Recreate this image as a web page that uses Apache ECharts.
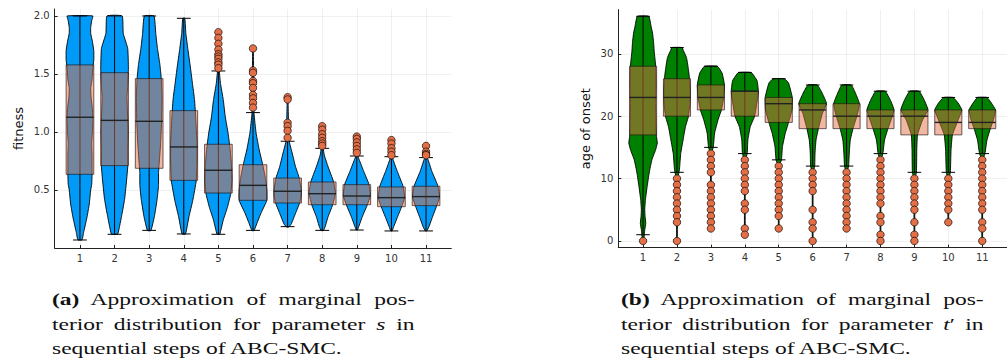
<!DOCTYPE html>
<html><head><meta charset="utf-8">
<script src="https://cdn.jsdelivr.net/npm/echarts@6/dist/echarts.min.js"></script>
<style>
html,body{margin:0;padding:0;background:#fff;}
#chart{position:absolute;left:0;top:0;width:1007px;height:360px;}
.cap{position:absolute;top:288px;font-family:"Liberation Serif","DejaVu Serif",serif;font-size:16px;line-height:24.7px;color:#111;width:247px;transform:scaleX(1.468);transform-origin:0 0;}
.cap div{white-space:nowrap;}
.cap .j{text-align:justify;text-align-last:justify;}
</style></head>
<body>
<div id="chart"></div>
<div class="cap" style="left:52px">
<div class="j"><b>(a)</b> Approximation of marginal pos-</div>
<div class="j">terior distribution for parameter <i>s</i> in</div>
<div>sequential steps of ABC-SMC.</div>
</div>
<div class="cap" style="left:620.7px">
<div class="j"><b>(b)</b> Approximation of marginal pos-</div>
<div class="j">terior distribution for parameter <i>t</i>′ in</div>
<div>sequential steps of ABC-SMC.</div>
</div>
<script>
// ---------- data ----------
const categories = [1,2,3,4,5,6,7,8,9,10,11];
const fitnessTicks = [0.5,1.0,1.5,2.0];
const onsetTicks = [0,10,20,30];

// panel (a): fitness
const fitnessQ1 = [0.635,0.71,0.687,0.583,0.474,0.411,0.388,0.373,0.373,0.356,0.365];
const fitnessMedian = [1.127,1.10,1.092,0.871,0.67,0.54,0.489,0.468,0.448,0.434,0.443];
const fitnessQ3 = [1.578,1.511,1.46,1.184,0.894,0.718,0.603,0.569,0.546,0.526,0.532];
const fitnessWhiskerLow = [0.069,0.118,0.152,0.121,0.118,0.152,0.184,0.152,0.155,0.147,0.147];
const fitnessWhiskerHigh = [2.0,2.0,2.0,1.98,1.526,1.167,0.92,0.859,0.793,0.787,0.779];
const fitnessOutliers = [
  [],[],[],[],
  [1.86,1.81,1.76,1.71,1.67,1.65,1.63,1.60,1.58,1.55],
  [1.72,1.53,1.51,1.44,1.42,1.38,1.32,1.29,1.25,1.21],
  [1.30,1.28,1.08,1.05,1.01,0.95],
  [1.05,1.02,0.98,0.95,0.92,0.90,0.88],
  [0.96,0.94,0.91,0.88,0.85,0.82],
  [0.93,0.90,0.86,0.83,0.80],
  [0.88,0.83,0.81,0.80]
];
// violin profiles: [value, half-width]
const fitnessViolin = [
  [[2.0,0.37],[1.96,0.34],[1.9,0.31],[1.85,0.31],[1.78,0.36],[1.7,0.40],[1.62,0.40],[1.55,0.37],[1.45,0.35],[1.38,0.31],[1.3,0.32],[1.2,0.36],[1.1,0.37],[1.0,0.36],[0.9,0.34],[0.8,0.35],[0.7,0.35],[0.63,0.35],[0.55,0.34],[0.5,0.31],[0.38,0.27],[0.26,0.20],[0.14,0.11],[0.07,0.06]],
  [[2.0,0.22],[1.85,0.25],[1.72,0.38],[1.55,0.40],[1.4,0.38],[1.3,0.36],[1.2,0.37],[1.0,0.39],[0.85,0.38],[0.70,0.38],[0.56,0.34],[0.42,0.29],[0.27,0.20],[0.18,0.14],[0.12,0.09]],
  [[2.0,0.14],[1.85,0.19],[1.72,0.24],[1.58,0.31],[1.46,0.35],[1.3,0.37],[1.1,0.36],[0.9,0.33],[0.69,0.28],[0.65,0.27],[0.54,0.27],[0.42,0.23],[0.27,0.15],[0.15,0.05]],
  [[1.98,0.03],[1.85,0.06],[1.71,0.12],[1.56,0.19],[1.42,0.25],[1.28,0.31],[1.1,0.35],[0.9,0.38],[0.75,0.38],[0.58,0.36],[0.41,0.26],[0.27,0.15],[0.12,0.05]],
  [[1.86,0.01],[1.55,0.02],[1.42,0.06],[1.28,0.14],[1.13,0.20],[0.99,0.28],[0.85,0.34],[0.7,0.38],[0.58,0.39],[0.47,0.36],[0.35,0.26],[0.24,0.14],[0.12,0.04]],
  [[1.72,0.01],[1.16,0.03],[0.99,0.09],[0.845,0.18],[0.72,0.28],[0.6,0.36],[0.5,0.40],[0.41,0.40],[0.30,0.23],[0.21,0.11],[0.15,0.03]],
  [[1.30,0.01],[0.93,0.04],[0.81,0.14],[0.70,0.23],[0.60,0.34],[0.5,0.39],[0.45,0.39],[0.39,0.35],[0.30,0.23],[0.21,0.11],[0.18,0.03]],
  [[1.05,0.01],[0.86,0.03],[0.80,0.06],[0.70,0.17],[0.57,0.33],[0.47,0.38],[0.37,0.30],[0.27,0.17],[0.18,0.08],[0.15,0.03]],
  [[0.96,0.01],[0.79,0.03],[0.76,0.07],[0.66,0.20],[0.55,0.35],[0.45,0.39],[0.37,0.30],[0.27,0.16],[0.18,0.05],[0.155,0.02]],
  [[0.93,0.01],[0.79,0.03],[0.76,0.05],[0.66,0.17],[0.53,0.34],[0.43,0.38],[0.36,0.30],[0.27,0.18],[0.18,0.06],[0.147,0.02]],
  [[0.88,0.01],[0.78,0.03],[0.76,0.06],[0.66,0.17],[0.53,0.35],[0.44,0.39],[0.365,0.31],[0.27,0.19],[0.18,0.08],[0.147,0.02]]
];

// panel (b): age of onset
const onsetQ1 = [17,20,21,20,19,18,18,18,17,17,18];
const onsetMedian = [23,23,23,24,22,21,20,20,20,19,19];
const onsetQ3 = [28,26,25,24,23,22,22,21,21,21,21];
const onsetWhiskerLow = [1,11,15,14,13,12,12,14,11,11,14];
const onsetWhiskerHigh = [36,31,28,27,26,25,25,24,24,23,23];
const onsetOutliers = [
  [0],
  [10,9,8,7,6,5,4,3,0],
  [14,13,12,11,9,8,7,6,5,4,3,2],
  [13,12,11,10,9,8,6,5,2,1],
  [12,11,10,9,8,7,6,5,4,2],
  [11,10,9,8,5,3,2,0],
  [11,10,9,8,7,6,5,4,3,2],
  [13,12,11,10,9,8,7,6,4,3,1,0],
  [10,9,8,7,6,5,3,1,0],
  [10,9,8,7,6,5,3],
  [13,12,11,10,9,8,7,6,5,3,2,0]
];
const onsetViolin = [
  [[36,0.17],[34.3,0.24],[33.3,0.28],[31.9,0.31],[30.3,0.33],[28.2,0.37],[25,0.38],[22,0.37],[19,0.38],[17,0.39],[15.7,0.42],[14.6,0.37],[13,0.26],[10.9,0.18],[8.7,0.12],[6.6,0.07],[5,0.05],[3.9,0.06],[2.8,0.08],[1.8,0.05],[1.2,0.04],[0,0.015]],
  [[31,0.15],[30.5,0.19],[29.4,0.28],[27.8,0.33],[26,0.37],[24,0.39],[22,0.38],[20,0.34],[18.3,0.25],[16.2,0.18],[14,0.11],[11.9,0.08],[11,0.06],[10,0.015],[0,0.01]],
  [[28,0.19],[26.9,0.33],[25,0.40],[23,0.38],[21,0.31],[19.4,0.21],[17.3,0.11],[15,0.07],[14,0.015],[2,0.01]],
  [[27,0.19],[25.7,0.36],[24,0.40],[22.6,0.37],[20,0.29],[18.3,0.16],[16.2,0.09],[14,0.07],[13,0.015],[1,0.01]],
  [[26,0.17],[25.3,0.29],[23,0.40],[21,0.39],[19,0.29],[17.2,0.19],[15.1,0.11],[13,0.08],[12,0.015],[2,0.01]],
  [[25,0.14],[23.6,0.29],[22,0.41],[20.5,0.29],[18,0.17],[16.2,0.10],[14.1,0.07],[12,0.06],[11,0.015],[0,0.01]],
  [[25,0.14],[23.6,0.27],[22,0.38],[20.5,0.33],[18,0.19],[16.2,0.11],[14.1,0.08],[12,0.06],[11,0.015],[2,0.01]],
  [[24,0.14],[22.6,0.29],[21,0.40],[19.4,0.31],[18,0.22],[16.2,0.12],[14,0.07],[13,0.015],[0,0.01]],
  [[24,0.14],[22.6,0.29],[21,0.40],[19.4,0.24],[17,0.09],[14.6,0.07],[11,0.06],[10,0.015],[0,0.01]],
  [[23,0.14],[22.1,0.29],[21,0.40],[19.4,0.29],[17,0.12],[14.6,0.08],[11,0.06],[10,0.015],[3,0.01]],
  [[23,0.14],[22.1,0.27],[21,0.39],[19.4,0.33],[18,0.24],[16.2,0.14],[14,0.08],[13,0.015],[0,0.01]]
];

// ---------- rendering ----------
const BOX_HALF = 0.4, CAP_HALF = 0.2;
const BOX_FILL = 'rgba(226,111,70,0.5)';
const OUT_COLOR = '#E26F46';

function violinItem(profiles, color){
  return function(params, api){
    const i = params.dataIndex, c = categories[i], prof = profiles[i];
    const pts = [];
    for (const [y,w] of prof) pts.push(api.coord([c + w, y]));
    for (let k = prof.length - 1; k >= 0; k--) { const [y,w] = prof[k]; pts.push(api.coord([c - w, y])); }
    return {type:'polygon', shape:{points:pts, smooth:0.12}, style:{fill:color, stroke:'#000', lineWidth:0.9}};
  };
}
function boxItem(q1, med, q3, wl, wh){
  return function(params, api){
    const i = params.dataIndex, c = categories[i];
    const ch = [];
    const line = (a, b, w, col) => ch.push({type:'line', shape:{x1:a[0],y1:a[1],x2:b[0],y2:b[1]}, style:{stroke:col||'#000', lineWidth:w||1}});
    line(api.coord([c, wh[i]]), api.coord([c, wl[i]]), 1);
    line(api.coord([c - CAP_HALF, wh[i]]), api.coord([c + CAP_HALF, wh[i]]), 1);
    line(api.coord([c - CAP_HALF, wl[i]]), api.coord([c + CAP_HALF, wl[i]]), 1);
    const tl = api.coord([c - BOX_HALF, q3[i]]), br = api.coord([c + BOX_HALF, q1[i]]);
    ch.push({type:'rect', shape:{x:tl[0], y:tl[1], width:br[0]-tl[0], height:br[1]-tl[1]},
      style:{fill:BOX_FILL, stroke:'rgba(30,20,20,0.65)', lineWidth:1}});
    line(api.coord([c - BOX_HALF, med[i]]), api.coord([c + BOX_HALF, med[i]]), 1.4, '#222');
    return {type:'group', children:ch};
  };
}
const catData = categories.map(c => [c]);
const flatOut = arr => arr.flatMap((vals, i) => vals.map(v => [categories[i], v]));

const tickFont = {fontSize:10, color:'#333', fontFamily:'DejaVu Sans'};
function xAxisCfg(gi){
  return {gridIndex:gi, type:'value', min:0.27, max:11.73,
    axisLine:{onZero:false, lineStyle:{color:'#222', width:1}},
    axisTick:{inside:true, length:3, customValues:categories, lineStyle:{color:'#222'}},
    axisLabel:Object.assign({customValues:categories, margin:5}, tickFont),
    splitLine:{show:true, lineStyle:{color:'rgba(0,0,0,0.06)', width:1}}};
}
function yAxisCfg(gi, min, max, ticks, name, gap, fmt){
  return {gridIndex:gi, type:'value', min:min, max:max,
    name:name, nameLocation:'middle', nameGap:gap,
    nameTextStyle:{fontSize:13, color:'#111', fontFamily:'DejaVu Sans'},
    axisLine:{show:true, onZero:false, lineStyle:{color:'#222', width:1}},
    axisTick:{show:true, inside:true, length:3, customValues:ticks, lineStyle:{color:'#222'}},
    axisLabel:Object.assign({customValues:ticks, margin:5, formatter:fmt}, tickFont),
    splitLine:{show:true, lineStyle:{color:'rgba(0,0,0,0.06)', width:1}}};
}

const chart = echarts.init(document.getElementById('chart'), null, {renderer:'svg'});
chart.setOption({
  animation:false,
  backgroundColor:'#fff',
  grid:[
    {left:54.7, top:9, width:396.6, height:239},
    {left:618.3, top:9.6, width:400.6, height:238.1}
  ],
  xAxis:[xAxisCfg(0), xAxisCfg(1)],
  yAxis:[
    yAxisCfg(0, 0, 2.06, fitnessTicks, 'fitness', 30, v => v.toFixed(1)),
    yAxisCfg(1, -1.08, 37.08, onsetTicks, 'age of onset', 26, v => String(v))
  ],
  series:[
    {type:'custom', xAxisIndex:0, yAxisIndex:0, data:catData, encode:{x:0}, renderItem:violinItem(fitnessViolin, '#009AF9'), z:1},
    {type:'custom', xAxisIndex:0, yAxisIndex:0, data:catData, encode:{x:0}, renderItem:boxItem(fitnessQ1, fitnessMedian, fitnessQ3, fitnessWhiskerLow, fitnessWhiskerHigh), z:2},
    {type:'scatter', xAxisIndex:0, yAxisIndex:0, data:flatOut(fitnessOutliers), symbolSize:7.5,
      itemStyle:{color:OUT_COLOR, borderColor:'rgba(0,0,0,0.8)', borderWidth:0.8, opacity:1}, z:3},
    {type:'custom', xAxisIndex:1, yAxisIndex:1, data:catData, encode:{x:0}, renderItem:violinItem(onsetViolin, '#008000'), z:1},
    {type:'custom', xAxisIndex:1, yAxisIndex:1, data:catData, encode:{x:0}, renderItem:boxItem(onsetQ1, onsetMedian, onsetQ3, onsetWhiskerLow, onsetWhiskerHigh), z:2},
    {type:'scatter', xAxisIndex:1, yAxisIndex:1, data:flatOut(onsetOutliers), symbolSize:7.5,
      itemStyle:{color:OUT_COLOR, borderColor:'rgba(0,0,0,0.8)', borderWidth:0.8, opacity:1}, z:3}
  ]
});
</script>
</body></html>
